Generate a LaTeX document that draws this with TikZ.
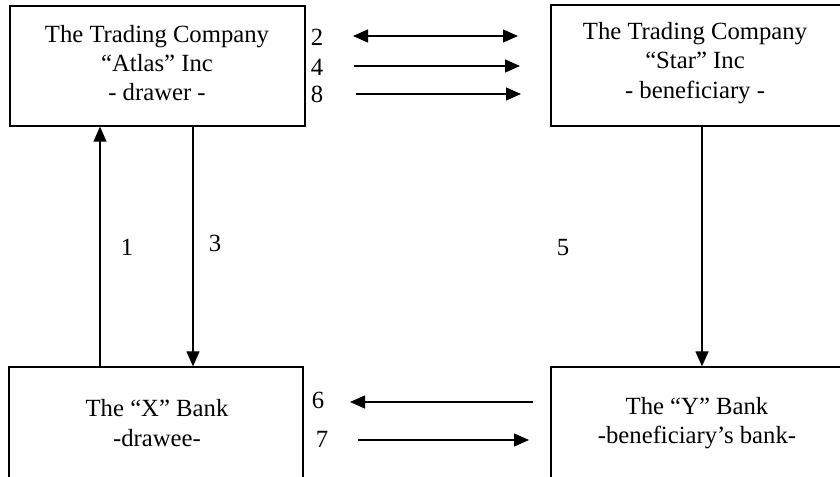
\documentclass[tikz,border=0pt]{standalone}
\usepackage{fontspec}
\setmainfont{Liberation Serif}
\usetikzlibrary{arrows.meta}
\begin{document}
\begin{tikzpicture}[x=1bp,y=-1bp,
  boxshape/.style={draw, line width=1.3bp, rectangle, inner sep=0pt},
  txt/.style={align=center, font=\fontsize{24.8}{29.5}\selectfont, inner sep=0pt},
  lbl/.style={font=\fontsize{24.8}{29.5}\selectfont, inner sep=0pt},
  tip/.tip={Triangle[length=15bp,width=13bp]},
  conn/.style={line width=1.3bp, -tip},
  conn2/.style={line width=1.3bp, tip-tip}]
\useasboundingbox (0,0) rectangle (840,477);
\clip (0,0) rectangle (840,477);
% boxes
\node[boxshape, minimum width=295bp, minimum height=120bp] (atlas) at (157.5,66) {};
\node[boxshape, minimum width=294bp, minimum height=121bp] (star) at (698,65.5) {};
\node[boxshape, minimum width=294bp, minimum height=133bp] (xbank) at (156,433.5) {};
\node[boxshape, minimum width=294bp, minimum height=133bp] (ybank) at (698,433.5) {};
% texts
\node[txt] (atlastxt) at (157,63) {The Trading Company\\“Atlas” Inc\\- drawer -};
\node[txt] (startxt) at (695,63) {The Trading Company\\“Star” Inc\\- beneficiary -};
\node[txt] (xtxt) at (157,423) {The “X” Bank\\-drawee-};
\node[txt] (ytxt) at (697,423) {The “Y” Bank\\-beneficiary’s bank-};
% vertical connectors
\coordinate (c1) at (100,0);
\coordinate (c3) at (193,0);
\coordinate (c5) at (702,0);
\draw[conn] (xbank.north -| c1) -- (atlas.south -| c1);
\draw[conn] (atlas.south -| c3) -- (xbank.north -| c3);
\draw[conn] (star.south -| c5) -- (ybank.north -| c5);
% horizontal connectors
\coordinate (a2s) at (353,36);  \coordinate (a2e) at (518,36);
\coordinate (a4s) at (354,66);  \coordinate (a4e) at (520,66);
\coordinate (a8s) at (356,94);  \coordinate (a8e) at (521,94);
\coordinate (a6s) at (533,402); \coordinate (a6e) at (350,402);
\coordinate (a7s) at (358,440); \coordinate (a7e) at (529,440);
\draw[conn2] (a2s) -- (a2e);
\draw[conn] (a4s) -- (a4e);
\draw[conn] (a8s) -- (a8e);
\draw[conn] (a6s) -- (a6e);
\draw[conn] (a7s) -- (a7e);
% labels
\node[lbl] (l2) at (317,37) {2};
\node[lbl] (l4) at (317,67) {4};
\node[lbl] (l8) at (317,94) {8};
\node[lbl] (l6) at (318,400) {6};
\node[lbl] (l7) at (322,439) {7};
\node[lbl] (l1) at (127,247) {1};
\node[lbl] (l3) at (215,243) {3};
\node[lbl] (l5) at (563,248) {5};
\end{tikzpicture}
\end{document}
